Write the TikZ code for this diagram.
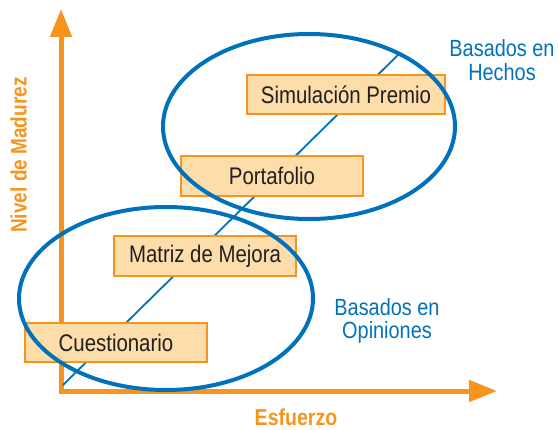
\documentclass[tikz,border=0pt]{standalone}
\usepackage{fontspec}
\usetikzlibrary{arrows.meta,shapes.geometric}
\newfontfamily\labfont[FakeStretch=0.85]{Liberation Sans}
\definecolor{axorange}{HTML}{F7941D}
\definecolor{boxfill}{HTML}{FDDDA9}
\definecolor{ellblue}{HTML}{0072BC}
\definecolor{txtdark}{HTML}{231F20}
\begin{document}
\begin{tikzpicture}[x=1pt,y=-1pt,
  axisline/.style={draw=axorange,line width=5pt,line join=miter,
    {Triangle[length=28pt,width=21pt]}-{Triangle[length=28pt,width=21pt]}},
  stagebox/.style={draw=axorange,fill=boxfill,line width=2pt,minimum height=39pt,
    inner sep=0pt,text=txtdark,font=\labfont\fontsize{24}{28}\selectfont},
  grouping/.style={draw=ellblue,line width=4pt},
  diag/.style={draw=ellblue,line width=1.8pt},
  axislabel/.style={text=axorange,font=\labfont\bfseries\fontsize{23}{26}\selectfont,inner sep=0pt},
  grouplabel/.style={text=ellblue,align=center,inner sep=0pt,
    font=\labfont\fontsize{23.4}{23.5}\selectfont}]
\useasboundingbox (0,0) rectangle (559,430);
% axes
\coordinate (ytip) at (61,9);
\coordinate (origin) at (61,391);
\coordinate (xtip) at (497,391);
\draw[axisline] (ytip) -- (origin) -- (xtip);
% diagonal
\coordinate (dstart) at (63,385);
\coordinate (dend) at (400,53);
\draw[diag] (dstart) -- (dend);
% boxes
\node[stagebox,minimum width=182pt] (cuest) at (116,342.5) {Cuestionario};
\node[stagebox,minimum width=182pt,minimum height=40pt] (matriz) at (205,256) {Matriz de Mejora};
\node[stagebox,minimum width=182pt,minimum height=40pt] (porta) at (272,176) {Portafolio};
\node[stagebox,minimum width=198pt] (simul) at (346,94.5) {Simulación Premio};
% ellipses
\coordinate (lowc) at (166,298.5);
\coordinate (upc) at (309,126.5);
\draw[grouping] (lowc) ellipse [x radius=147pt, y radius=91.5pt];
\draw[grouping] (upc) ellipse [x radius=146pt, y radius=92.5pt];
% labels
\node[axislabel,rotate=90,font=\labfont\bfseries\fontsize{22.4}{26}\selectfont] (ylab) at (18.5,155) {Nivel de Madurez};
\node[axislabel] (xlab) at (296,417) {Esfuerzo};
\node[grouplabel] (hechos) at (502,60) {Basados en\\Hechos};
\node[grouplabel] (opin) at (387,321) {Basados en\\Opiniones};
\end{tikzpicture}
\end{document}
